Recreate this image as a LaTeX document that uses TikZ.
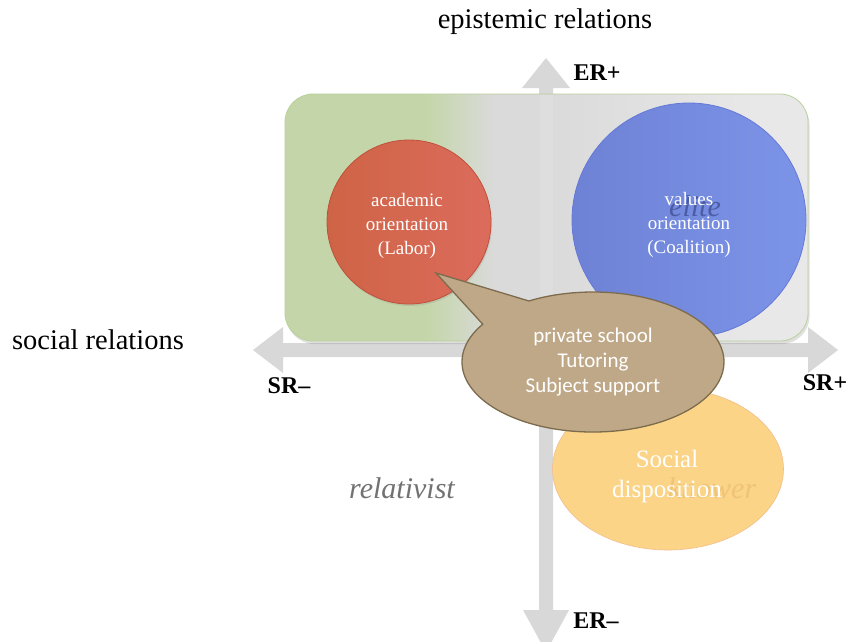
\documentclass[tikz,border=0pt]{standalone}
\usepackage{fontspec}
\setmainfont{Liberation Serif}
\newfontfamily\bubblefont{Carlito}
\usetikzlibrary{shapes.geometric,shapes.callouts,shadows}

\definecolor{axisgray}{HTML}{D8D8D8}
\definecolor{boxgreen}{HTML}{C4D6A9}
\definecolor{boxgray}{HTML}{DADADA}
\definecolor{boxlight}{HTML}{E8E8E8}
\definecolor{boxedge}{HTML}{B9D19A}
\definecolor{redleft}{HTML}{CE6446}
\definecolor{redright}{HTML}{DC6B5C}
\definecolor{rededge}{HTML}{C0503C}
\definecolor{blueleft}{HTML}{6E82D5}
\definecolor{blueright}{HTML}{7C94E8}
\definecolor{blueedge}{HTML}{6478D8}
\definecolor{yellowfill}{HTML}{FBD487}
\definecolor{yellowedge}{HTML}{F3BE8B}
\definecolor{knowertext}{HTML}{EFC478}
\definecolor{elitetext}{HTML}{3E4C92}
\definecolor{bubblefill}{HTML}{BFA887}
\definecolor{bubbleedge}{HTML}{7D6B4E}
\definecolor{relgray}{HTML}{727272}

% horizontal shading of the quadrant box: green on the left, grey to the right
\pgfdeclarehorizontalshading{boxshade}{100bp}{%
  color(0bp)=(boxgreen); color(38.5bp)=(boxgreen); color(45bp)=(boxgray);
  color(50bp)=(boxgray); color(70bp)=(boxlight); color(100bp)=(boxlight)}

\tikzset{
  axisfill/.style={fill=axisgray},
  axislabel/.style={font=\fontsize{24}{28}\selectfont\bfseries, inner sep=0pt},
  titlelabel/.style={font=\fontsize{28.5}{32}\selectfont, inner sep=0pt},
  codelabel/.style={font=\fontsize{30}{34}\selectfont\itshape, inner sep=0pt},
  quadbox/.style={rectangle, rounded corners=28pt, minimum width=523pt,
    minimum height=247pt, shading=boxshade, draw=boxedge, line width=0.8pt,
    drop shadow={opacity=0.25, shadow xshift=1.5pt, shadow yshift=-3pt}},
  orient/.style={circle, inner sep=0pt, line width=0.8pt},
  circtext/.style={text=white, align=center, inner sep=0pt,
    font=\fontsize{19}{24}\selectfont},
  bubble/.style={ellipse callout, minimum width=262pt, minimum height=140pt,
    inner sep=0pt, fill=bubblefill, draw=bubbleedge, line width=1.3pt,
    callout pointer arc=28, text=white, align=center,
    font=\bubblefont\fontsize{21}{25}\selectfont},
}

\begin{document}
\begin{tikzpicture}[x=1pt,y=-1pt]
\useasboundingbox (0,0) rectangle (850,641);
\fill[white] (0,0) rectangle (850,641);

% axes: social relations (horizontal) and epistemic relations (vertical)
\fill[axisfill] (253,350) -- (283,327) -- (283,343) -- (808,343) -- (808,327)
  -- (838,350) -- (808,373) -- (808,357) -- (283,357) -- (283,373) -- cycle;
\fill[axisfill] (546,58) -- (570,88) -- (553,88) -- (553,610) -- (569,610)
  -- (546,652) -- (523,610) -- (539,610) -- (539,88) -- (522,88) -- cycle;

% upper quadrants
\node[quadbox] (box) at (546.5,217.5) {};
\fill[white, opacity=0.12] (539.5,95) rectangle (552.5,340);

% codes
\node[orient, minimum size=164pt, left color=redleft, right color=redright,
  draw=rededge, drop shadow={opacity=0.2, shadow xshift=1pt, shadow yshift=-2pt}]
  (labor) at (409,222) {};
\node[orient, minimum size=234pt, left color=blueleft, right color=blueright,
  draw=blueedge] (coalition) at (689,220) {};
\node[ellipse, minimum width=231pt, minimum height=162pt, inner sep=0pt,
  fill=yellowfill, draw=yellowedge, line width=0.6pt] (social) at (668,469) {};

\node[codelabel, text=elitetext, opacity=0.75] (elite) at (695,206) {elite};
\node[codelabel, text=knowertext] (knower) at (712,488) {knower};

\node[circtext] (labortext) at (407,226) {academic\\orientation\\(Labor)};
\node[circtext] (coalitiontext) at (689,225) {values\\orientation\\(Coalition)};
\node[circtext, font=\fontsize{25}{30}\selectfont] (socialtext) at (667,476)
  {Social\\disposition};

% speech bubble pointing at the Labor circle
\node[bubble, callout absolute pointer={(436,273)}] (private) at (593,362)
  {private school\\Tutoring\\Subject support};

% axis and quadrant labels
\node[titlelabel] (er) at (545,22) {epistemic relations};
\node[titlelabel] (sr) at (98,340) {social relations};
\node[axislabel] (erplus) at (597,73) {ER+};
\node[axislabel] (erminus) at (596,621) {ER–};
\node[axislabel] (srminus) at (289,386) {SR–};
\node[axislabel] (srplus) at (825,383) {SR+};
\node[codelabel, text=relgray] (relativist) at (402,488) {relativist};
\end{tikzpicture}
\end{document}
